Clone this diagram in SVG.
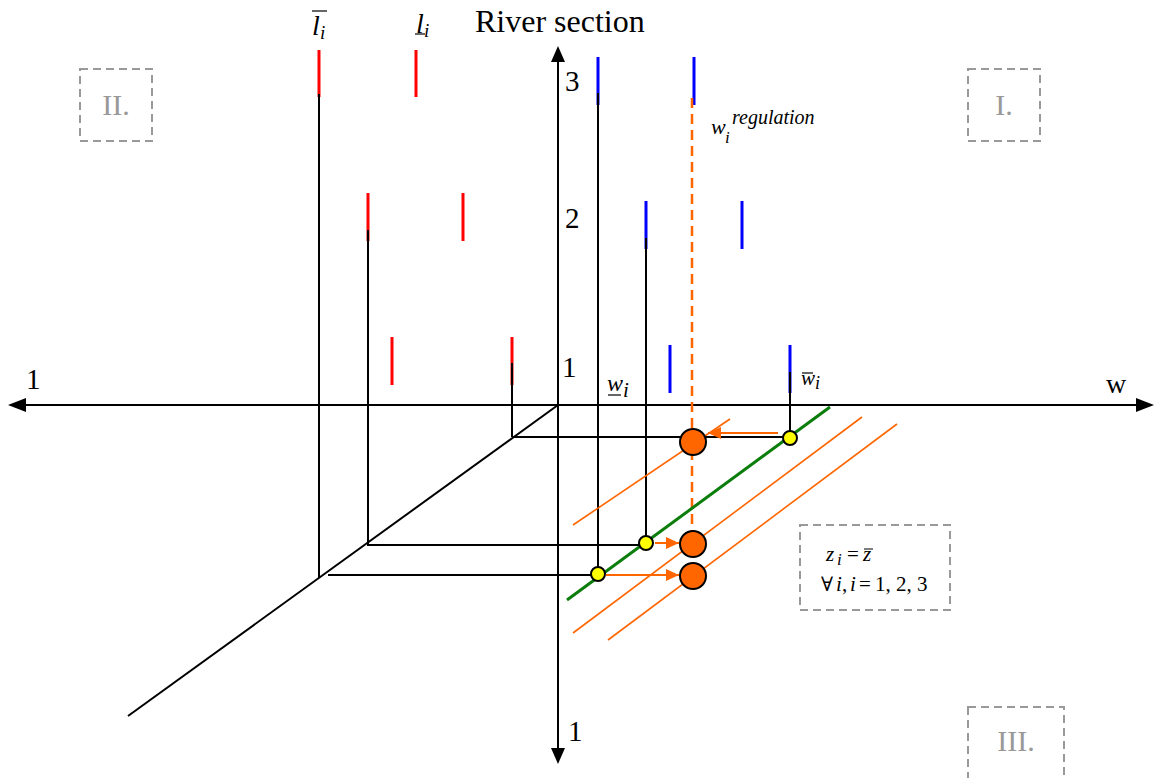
<svg xmlns="http://www.w3.org/2000/svg" width="1154" height="778" viewBox="0 0 1154 778">
<style>
.ax{stroke:#000;stroke-width:2;fill:none}
.ln{stroke:#000;stroke-width:2;fill:none}
.red{stroke:#FF0000;stroke-width:3}
.blue{stroke:#0000FF;stroke-width:3}
.or{stroke:#FF6600;stroke-width:1.6;fill:none}
.q{fill:none;stroke:#999;stroke-width:2;stroke-dasharray:8 5}
.qt{font-family:"Liberation Serif",serif;font-size:30px;fill:#999;text-anchor:middle}
.t{font-family:"Liberation Serif",serif;fill:#000}
.it{font-family:"Liberation Serif",serif;font-style:italic;fill:#000}
.yc{fill:#FFFF00;stroke:#000;stroke-width:2}
.oc{fill:#FF6600;stroke:#000;stroke-width:2}
</style>
<defs>
<marker id="oa" viewBox="0 0 10 10" refX="10" refY="5" markerWidth="13" markerHeight="12" markerUnits="userSpaceOnUse" orient="auto" preserveAspectRatio="none">
<path d="M0,0 L10,5 L0,10 z" fill="#FF6600"/>
</marker>
</defs>

<g id="quadrants">
<g id="q2"><rect class="q" x="80" y="69" width="72" height="72"/><text class="qt" x="116" y="115">II.</text></g>
<g id="q1"><rect class="q" x="968" y="69" width="72" height="72"/><text class="qt" x="1004" y="115">I.</text></g>
<g id="q3"><rect class="q" x="968" y="707" width="96" height="90"/><text class="qt" x="1016" y="751">III.</text></g>
</g>

<g id="axes">
<line class="ax" x1="24" y1="405" x2="1138" y2="405"/>
<path d="M8,405 L26,398 L26,412 z" fill="#000"/>
<path d="M1154,405 L1136,398 L1136,412 z" fill="#000"/>
<line class="ax" x1="558" y1="60" x2="558" y2="750"/>
<path d="M558,46 L551,62 L565,62 z" fill="#000"/>
<path d="M558,764 L551,748 L565,748 z" fill="#000"/>
<line class="ax" x1="558" y1="405" x2="128" y2="716"/>
</g>

<g id="connectors">
<line class="ln" x1="319" y1="94" x2="319" y2="578"/>
<line class="ln" x1="328" y1="575" x2="598" y2="575"/>
<line class="ln" x1="368" y1="230" x2="368" y2="546"/>
<line class="ln" x1="368" y1="545" x2="646" y2="545"/>
<line class="ln" x1="512" y1="363" x2="512" y2="437"/>
<line class="ln" x1="512" y1="437" x2="790" y2="437"/>
<line class="ln" x1="598" y1="93" x2="598" y2="575"/>
<line class="ln" x1="646" y1="238" x2="646" y2="543"/>
<line class="ln" x1="790" y1="372" x2="790" y2="437"/>
</g>

<g id="bars">
<line class="red" x1="319" y1="50" x2="319" y2="97"/>
<line class="red" x1="416" y1="50" x2="416" y2="97"/>
<line class="red" x1="368" y1="193" x2="368" y2="241"/>
<line class="red" x1="463" y1="193" x2="463" y2="241"/>
<line class="red" x1="392" y1="337" x2="392" y2="385"/>
<line class="red" x1="512" y1="337" x2="512" y2="385"/>
<line class="blue" x1="598" y1="57" x2="598" y2="105"/>
<line class="blue" x1="694" y1="57" x2="694" y2="105"/>
<line class="blue" x1="646" y1="201" x2="646" y2="249"/>
<line class="blue" x1="742" y1="201" x2="742" y2="249"/>
<line class="blue" x1="670" y1="345" x2="670" y2="393"/>
<line class="blue" x1="790" y1="345" x2="790" y2="393"/>
<line class="ln" x1="319" y1="94" x2="319" y2="100"/>
<line class="ln" x1="598" y1="93" x2="598" y2="105"/>
<line class="ln" x1="368" y1="230" x2="368" y2="241"/>
<line class="ln" x1="512" y1="363" x2="512" y2="385"/>
<line class="ln" x1="646" y1="238" x2="646" y2="249"/>
<line class="ln" x1="790" y1="372" x2="790" y2="393"/>
</g>

<g id="lines">
<line x1="692" y1="98" x2="692" y2="532" stroke="#FF6600" stroke-width="2.5" stroke-dasharray="10 6"/>
<line class="or" x1="573" y1="525" x2="730" y2="419"/>
<line class="or" x1="573" y1="633" x2="862" y2="417"/>
<line class="or" x1="608" y1="640" x2="897" y2="424"/>
<line x1="567" y1="600" x2="830" y2="407" stroke="#0A7D0A" stroke-width="3"/>
</g>

<g id="arrows">
<line x1="778" y1="433" x2="708" y2="433" stroke="#FF6600" stroke-width="2" marker-end="url(#oa)"/>
<line x1="655" y1="543" x2="679" y2="543" stroke="#FF6600" stroke-width="2" marker-end="url(#oa)"/>
<line x1="606" y1="575" x2="679" y2="575" stroke="#FF6600" stroke-width="2" marker-end="url(#oa)"/>
</g>

<g id="points">
<circle class="yc" cx="790" cy="438" r="7"/>
<circle class="yc" cx="646" cy="543" r="7"/>
<circle class="yc" cx="598" cy="574" r="7"/>
<circle class="oc" cx="693" cy="442" r="13"/>
<circle class="oc" cx="693" cy="544" r="13"/>
<circle class="oc" cx="693" cy="576" r="13"/>
</g>

<g id="labels">
<text class="t" x="475" y="32" font-size="32">River section</text>
<text class="t" x="565" y="91" font-size="29">3</text>
<text class="t" x="565" y="228" font-size="29">2</text>
<text class="t" x="562" y="377" font-size="29">1</text>
<text class="t" x="568" y="741" font-size="29">1</text>
<text class="t" x="26" y="389" font-size="29">1</text>
<text class="t" x="1106" y="393" font-size="28">w</text>

<g id="lbar">
<text class="it" x="312" y="35" font-size="28">l</text>
<line x1="312" y1="11" x2="327" y2="11" stroke="#000" stroke-width="1.2"/>
<text class="it" x="320" y="39" font-size="19">i</text>
</g>
<g id="lund">
<text class="it" x="416" y="33" font-size="28">l</text>
<line x1="415" y1="34" x2="425" y2="34" stroke="#000" stroke-width="1.2"/>
<text class="it" x="424" y="37" font-size="19">i</text>
</g>
<g id="wund">
<text class="it" x="607" y="391" font-size="24">w</text>
<line x1="608" y1="395" x2="621" y2="395" stroke="#000" stroke-width="1.2"/>
<text class="it" x="623" y="397" font-size="21">i</text>
</g>
<g id="wbar">
<text class="it" x="801" y="385" font-size="21">w</text>
<line x1="802" y1="373" x2="813" y2="373" stroke="#000" stroke-width="1.2"/>
<text class="it" x="815" y="389" font-size="18">i</text>
</g>
<g id="wreg">
<text class="it" x="711" y="134" font-size="22">w</text>
<text class="it" x="725" y="143" font-size="17">i</text>
<text class="it" x="732" y="124" font-size="20">regulation</text>
</g>
</g>

<g id="eqbox">
<rect class="q" x="800" y="525" width="150" height="85"/>
<text class="it" x="826" y="561" font-size="21">z</text>
<text class="it" x="837" y="565" font-size="17">i</text>
<text class="t" x="847" y="561" font-size="21">=</text>
<text class="it" x="863" y="561" font-size="21">z</text>
<line x1="864" y1="549" x2="873" y2="549" stroke="#000" stroke-width="1"/>
<text x="821" y="591" font-size="20" font-family="'DejaVu Serif','Liberation Serif',serif">∀</text>
<text class="it" x="836" y="591" font-size="21">i</text>
<text class="t" x="842" y="591" font-size="21">,</text>
<text class="it" x="850" y="591" font-size="21">i</text>
<text class="t" x="859" y="591" font-size="21">=</text>
<text class="t" x="875" y="591" font-size="21">1, 2, 3</text>
</g>
</svg>
